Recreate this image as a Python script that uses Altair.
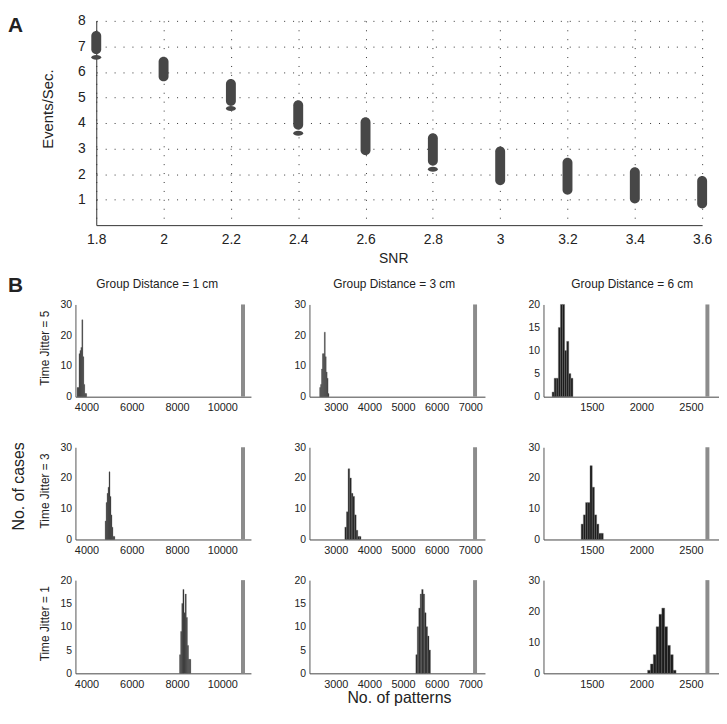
import altair as alt
import pandas as pd

FONT = "Liberation Sans"
INK = "#222222"

# ---------------- Panel A data ----------------
snr = [1.8, 2.0, 2.2, 2.4, 2.6, 2.8, 3.0, 3.2, 3.4, 3.6]
rate_low = [6.69, 5.63, 4.67, 3.74, 2.74, 2.33, 1.56, 1.19, 0.85, 0.65]
rate_high = [7.60, 6.59, 5.72, 4.89, 4.22, 3.60, 3.08, 2.64, 2.27, 1.92]
out_snr = [1.8, 2.2, 2.4, 2.8]
out_rate = [6.57, 4.57, 3.60, 2.19]
snr_ticks = [1.8, 2.0, 2.2, 2.4, 2.6, 2.8, 3.0, 3.2, 3.4, 3.6]
rate_ticks = [1, 2, 3, 4, 5, 6, 7, 8]

# ---------------- Panel B data ----------------
col_titles = ["Group Distance = 1 cm", "Group Distance = 3 cm", "Group Distance = 6 cm"]
row_titles = ["Time Jitter = 5", "Time Jitter = 3", "Time Jitter = 1"]
x_domains = [[3513, 11266], [2217, 7438], [1013, 2783]]
x_ticks = [[4000, 6000, 8000, 10000], [3000, 4000, 5000, 6000, 7000], [1500, 2000, 2500]]
real_patterns = [10915, 7143, 2666]
y_max = [[30, 30, 20], [30, 30, 30], [20, 20, 30]]
y_ticks_30 = [0, 10, 20, 30]
y_ticks_20 = [0, 5, 10, 15, 20]
bin_start = [[3587, 2521, 1100], [4827, 3270, 1393], [8112, 5382, 2063]]
bin_width = [[42, 27.7, 21], [42.5, 48, 22.3], [49.5, 43.4, 28.7]]
counts = [
    [[3, 3, 14, 15, 16, 25, 13, 4, 1, 1],
     [3, 4, 9, 14, 14, 21, 13, 8, 6, 1],
     [1, 4, 4, 15, 20, 20, 10, 12, 5, 4]],
    [[6, 12, 15, 17, 22, 14, 8, 4, 1, 1],
     [4, 9, 23, 20, 15, 14, 8, 3, 1, 1],
     [5, 8, 12, 12, 24, 17, 8, 5, 2, 2]],
    [[4, 9, 15, 18, 13, 17, 12, 6, 3, 3],
     [4, 10, 14, 17, 18, 17, 13, 10, 8, 5],
     [1, 3, 6, 15, 19, 21, 15, 9, 6, 1]],
]

# ---------------- layout (page pixels) ----------------
LEFT_EDGE = 8                       # page x where the drawing starts
TOP_EDGE = 8
A_LEFT, A_BOTTOM, A_RIGHT = 97, 224, 708
A_TOP = TOP_EDGE + 10               # room for the top tick label
A_W = A_RIGHT - A_LEFT
A_H = A_BOTTOM - A_TOP
COL_LEFT = [76, 312, 548]
COL_W = 177
ROW_TOP = [304, 448, 582]
ROW_H = [93, 93, 94]
COL_TITLE_CX = [158.5, 397.5, 637.5]
XLABEL_Y = 701                      # centre of "No. of patterns"

# invisible extents (page y) that fix every block's bounding box exactly
A_EXT = (A_TOP - 10, A_BOTTOM + 44)
ROW_EXT = [(270, ROW_TOP[0] + ROW_H[0] + 20),
           (ROW_TOP[1] - 9, ROW_TOP[1] + ROW_H[1] + 20),
           (ROW_TOP[2] - 9, 710)]
GAP_A_ROW1 = ROW_EXT[0][0] - A_EXT[1]
GAP_ROW12 = ROW_EXT[1][0] - ROW_EXT[0][1]
GAP_ROW23 = ROW_EXT[2][0] - ROW_EXT[1][1]


def axis(values, fmt, size, pad, domain_color, grid=False):
    kw = dict(values=values, tickCount=len(values), format=fmt, title=None, ticks=False,
              labelOverlap=False, labelFlush=False, labelFont=FONT, labelColor=INK,
              labelFontSize=size, labelPadding=pad, domainColor=domain_color, grid=grid)
    if grid:
        kw.update(gridDash=[1, 8], gridColor="#333", gridWidth=1, gridOpacity=1)
    return alt.Axis(**kw)


def label(text, x, y, size, weight="normal", angle=0, align="center", baseline="middle"):
    kw = dict(fontSize=size, fontWeight=weight, font=FONT, color=INK,
              align=align, baseline=baseline)
    if angle:
        kw["angle"] = angle
    return alt.Chart(pd.DataFrame({"t": [text]})).mark_text(**kw).encode(
        text="t:N", x=alt.value(x), y=alt.value(y))


def extent(x, y1, y2):
    return alt.Chart(pd.DataFrame({"v": [0]})).mark_rule(opacity=0, strokeWidth=1).encode(
        x=alt.value(x), y=alt.value(y1), y2=alt.value(y2))


# ---------------- Panel A ----------------
dfA = pd.DataFrame({"snr": snr, "lo": rate_low, "hi": rate_high})
dfO = pd.DataFrame({"snr": out_snr, "rate": out_rate})
xA = alt.Scale(domain=[1.8, 3.6], nice=False, zero=False, padding=0)
yA = alt.Scale(domain=[0, 8], nice=False, padding=0)

caps = alt.Chart(dfA).mark_bar(size=10, cornerRadius=5, color="#474747").encode(
    x=alt.X("snr:Q", scale=xA, axis=axis(snr_ticks, "~g", 14, 8, "#333", grid=True)),
    y=alt.Y("lo:Q", scale=yA, axis=axis(rate_ticks, "d", 14, 11, "#333", grid=True)),
    y2="hi:Q",
)
ELLIPSE = "M-1,0 A1,0.5 0 1,1 1,0 A1,0.5 0 1,1 -1,0 Z"
outl = alt.Chart(dfO).mark_point(shape=ELLIPSE, filled=True, size=100, opacity=1,
                                 color="#474747").encode(
    x=alt.X("snr:Q", scale=xA), y=alt.Y("rate:Q", scale=yA))

panelA = alt.layer(
    caps, outl,
    extent(LEFT_EDGE - A_LEFT, A_EXT[0] - A_TOP, A_EXT[1] - A_TOP),
    label("A", LEFT_EDGE - A_LEFT, A_EXT[0] - A_TOP + 4.5, 21, weight="bold",
          align="left", baseline="top"),
    label("Events/Sec.", 48 - A_LEFT, 107 - A_TOP, 15, angle=270),
    label("SNR", 397 - A_LEFT, 258 - A_TOP, 14),
).properties(width=A_W, height=A_H)

spacer = alt.Chart(pd.DataFrame({"v": [0]})).mark_point(opacity=0, size=1).encode(
    x=alt.value(0), y=alt.value(0)).properties(width=1, height=A_H)
rowA = alt.hconcat(spacer, panelA, spacing=A_LEFT - COL_LEFT[0] - 1, bounds="flush")


# ---------------- Panel B ----------------
def hist_panel(r, c):
    lo, hi = x_domains[c]
    ymax = y_max[r][c]
    st, bw = bin_start[r][c], bin_width[r][c]
    n = counts[r][c]
    df = pd.DataFrame({
        "x": [st + i * bw for i in range(len(n))],
        "x2": [st + (i + 1) * bw for i in range(len(n))],
        "n": n,
        "zero": [0] * len(n),
    })
    dfr = pd.DataFrame({"x": [real_patterns[c]], "zero": [0], "top": [ymax]})
    xs = alt.Scale(domain=[lo, hi], nice=False, zero=False, padding=0)
    ys = alt.Scale(domain=[0, ymax], nice=False, padding=0)
    yt = y_ticks_30 if ymax == 30 else y_ticks_20
    bars = alt.Chart(df).mark_bar(fill="#1c1c1c", stroke="#6a6a6a", strokeWidth=0.4).encode(
        x=alt.X("x:Q", scale=xs, axis=axis(x_ticks[c], "d", 11, 5, "#444")),
        x2="x2:Q",
        y=alt.Y("n:Q", scale=ys, axis=axis(yt, "d", 10.5, 4, "#555")),
        y2="zero:Q",
    )
    real = alt.Chart(dfr).mark_rule(color="#8c8c8c", strokeWidth=4).encode(
        x=alt.X("x:Q", scale=xs), y=alt.Y("zero:Q", scale=ys), y2="top:Q")
    layers = [bars, real]
    L, T = COL_LEFT[c], ROW_TOP[r]
    if r == 0:
        layers.append(label(col_titles[c], COL_TITLE_CX[c] - L, 283 - T, 12))
    if c == 0:
        layers.append(extent(LEFT_EDGE - L, ROW_EXT[r][0] - T, ROW_EXT[r][1] - T))
        layers.append(label(row_titles[r], 45.5 - L, 44, 12, angle=270))
    if r == 0 and c == 0:
        layers.append(label("B", LEFT_EDGE - L, ROW_EXT[0][0] - T + 4.5, 21, weight="bold",
                            align="left", baseline="top"))
    if r == 1 and c == 0:
        layers.append(label("No. of cases", LEFT_EDGE + 11.5 - L, 487.5 - T, 16, angle=270))
    if r == 2 and c == 1:
        layers.append(label("No. of patterns", 402.7 - L, XLABEL_Y - T, 16))
    return alt.layer(*layers).properties(width=COL_W, height=ROW_H[r])


rows = [alt.hconcat(*[hist_panel(r, c) for c in range(3)],
                    spacing=COL_LEFT[1] - COL_LEFT[0] - COL_W, bounds="flush")
        for r in range(3)]
lower = alt.vconcat(rows[1], rows[2], spacing=GAP_ROW23)
panelB = alt.vconcat(rows[0], lower, spacing=GAP_ROW12)

chart = alt.vconcat(rowA, panelB, spacing=GAP_A_ROW1).properties(
    padding=0, background="white"
).configure_view(stroke=None)

chart.save("out.html", embed_options={"renderer": "svg", "actions": False})
